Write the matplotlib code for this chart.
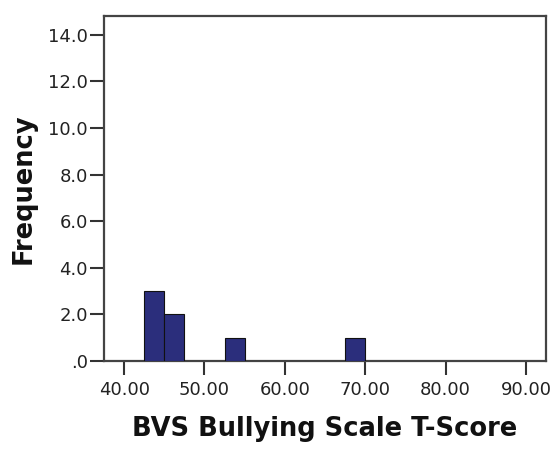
import matplotlib
matplotlib.use("Agg")
import matplotlib.pyplot as plt
import numpy as np

bin_edges = [40.0, 42.5, 45.0, 47.5, 50.0, 52.5, 55.0, 57.5, 60.0, 62.5, 65.0, 67.5, 70.0]
counts = [0, 3, 2, 0, 0, 1, 0, 0, 0, 0, 0, 1]
x_ticks = [40, 50, 60, 70, 80, 90]
x_tick_labels = ["40.00", "50.00", "60.00", "70.00", "80.00", "90.00"]
y_ticks = [0, 2, 4, 6, 8, 10, 12, 14]
y_tick_labels = [".0", "2.0", "4.0", "6.0", "8.0", "10.0", "12.0", "14.0"]
x_label = "BVS Bullying Scale T-Score"
y_label = "Frequency"

plt.rcParams['font.family'] = ['DejaVu Sans']

fig = plt.figure(figsize=(5.55, 4.54), dpi=100)
ax = fig.add_axes([104/555, 1-361/454, (546-104)/555, (361-16)/454])

edges = np.array(bin_edges)
ax.bar(edges[:-1], counts, width=np.diff(edges), align='edge',
       color='#2b2e7c', edgecolor='#111111', linewidth=0.8, zorder=3)

ax.set_xlim(37.5, 92.5)
ax.set_ylim(0, 14.8)
ax.set_xticks(x_ticks)
ax.set_xticklabels(x_tick_labels)
ax.set_yticks(y_ticks)
ax.set_yticklabels(y_tick_labels)
ax.tick_params(axis='both', labelsize=13, length=10, width=1.5, color='#333333',
               labelcolor='#222222')
ax.tick_params(axis='x', pad=4.5)
ax.tick_params(axis='y', pad=1.5)
for s in ax.spines.values():
    s.set_linewidth(1.6)
    s.set_color('#444444')

ax.set_xlabel(x_label, fontsize=18.5, fontweight='bold', labelpad=12, color='#111111')
ax.set_ylabel(y_label, fontsize=18.5, fontweight='bold', labelpad=8, color='#111111')

fig.savefig("out.png", dpi=100)
